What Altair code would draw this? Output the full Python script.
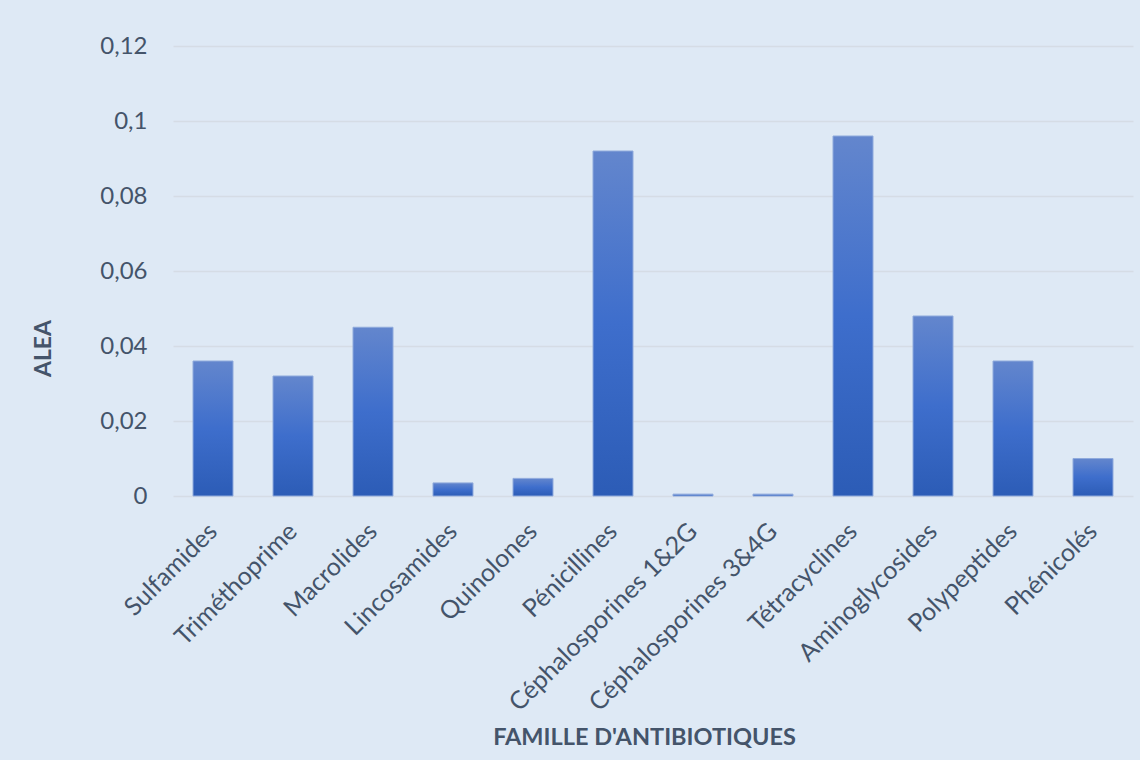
import altair as alt
import pandas as pd

# Antibiotic families and their ALEA values
familles = [
    "Sulfamides", "Triméthoprime", "Macrolides", "Lincosamides", "Quinolones",
    "Pénicillines", "Céphalosporines 1&2G", "Céphalosporines 3&4G",
    "Tétracyclines", "Aminoglycosides", "Polypeptides", "Phénicolés",
]
alea = [0.036, 0.032, 0.045, 0.0035, 0.0047, 0.092, 0.0005, 0.0005,
        0.096, 0.048, 0.036, 0.010]
y_ticks = [0, 0.02, 0.04, 0.06, 0.08, 0.1, 0.12]

df = pd.DataFrame({"famille": familles, "alea": alea})

TEXT = "#44546A"
BG = "#DEE9F5"
FONT = "Lato"

bar_fill = alt.Gradient(
    gradient="linear",
    x1=0, y1=0, x2=0, y2=1,
    stops=[
        alt.GradientStop(offset=0, color="#6386CD"),
        alt.GradientStop(offset=0.5, color="#3E6ECC"),
        alt.GradientStop(offset=1, color="#2C5CB6"),
    ],
)

chart = (
    alt.Chart(df)
    .mark_bar(fill=bar_fill, stroke="#8FAADC", strokeWidth=1)
    .encode(
        x=alt.X(
            "famille:N",
            sort=familles,
            scale=alt.Scale(paddingInner=0.5, paddingOuter=0.25),
            axis=alt.Axis(
                title="FAMILLE D'ANTIBIOTIQUES",
                labelAngle=-45,
                labelAlign="right",
                labelBaseline="middle",
                labelPadding=31,
                labelFontSize=25,
                labelFont=FONT,
                labelColor=TEXT,
                labelLimit=400,
                ticks=False,
                domain=False,
                titleFont=FONT,
                titleFontSize=23.5,
                titleFontWeight="bold",
                titleColor=TEXT,
                titleX=471,
                titleY=241,
                titleBaseline="middle",
            ),
        ),
        y=alt.Y(
            "alea:Q",
            scale=alt.Scale(domain=[0, 0.12], nice=False),
            axis=alt.Axis(
                title="ALEA",
                values=y_ticks,
                labelExpr="replace(format(datum.value, '~g'), '.', ',')",
                labelFontSize=24,
                labelFont=FONT,
                labelColor=TEXT,
                labelPadding=26,
                ticks=False,
                domain=False,
                gridColor="#D5DCE5",
                gridWidth=1.5,
                titleFont=FONT,
                titleFontSize=23,
                titleFontWeight="bold",
                titleColor=TEXT,
                titleX=-130,
                titleY=302,
                titleBaseline="middle",
                titleAngle=-90,
            ),
        ),
    )
    .properties(
        width=960,
        height=450,
        background=BG,
        padding={"left": 173, "top": 46, "right": 7, "bottom": 264},
        autosize=alt.AutoSizeParams(type="none"),
    )
    .configure_view(stroke=None)
)

chart.save("out.html", embed_options={"renderer": "svg", "actions": False})
